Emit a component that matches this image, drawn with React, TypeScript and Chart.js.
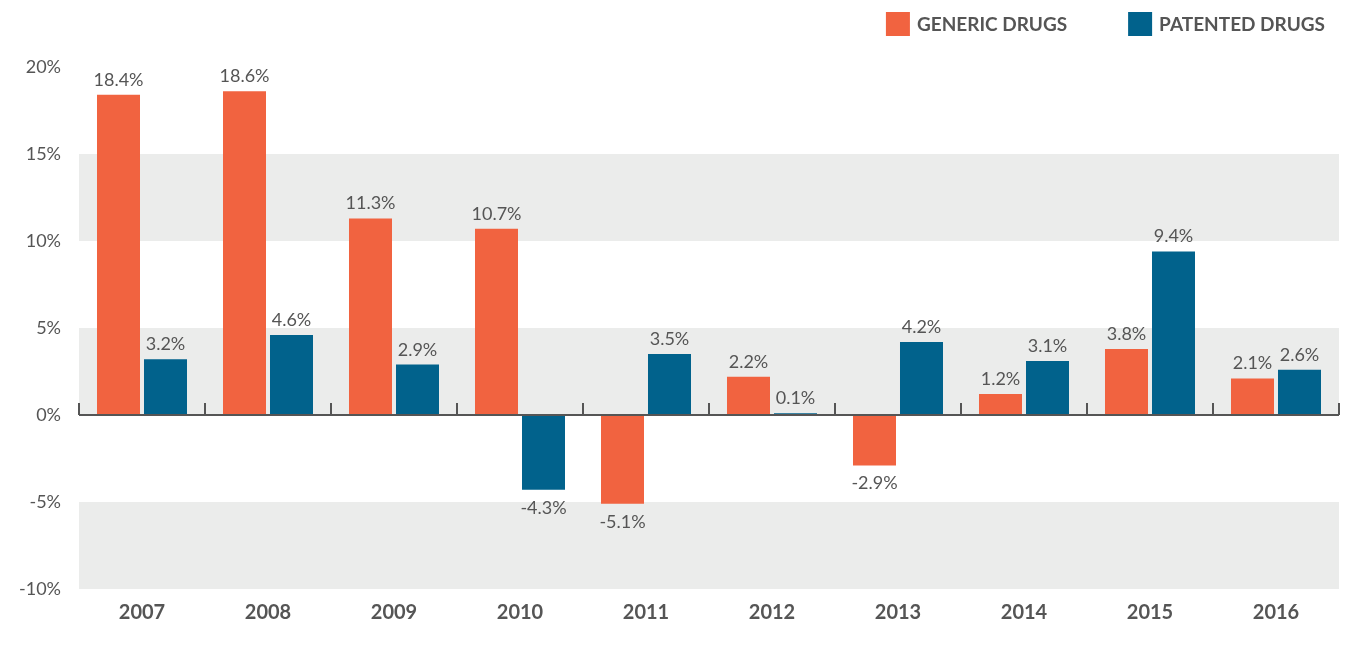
import React, { useEffect, useRef } from 'react';
import { Chart, registerables } from 'chart.js';

Chart.register(...registerables);

const categories = ['2007', '2008', '2009', '2010', '2011', '2012', '2013', '2014', '2015', '2016'];
const genericDrugs = [18.4, 18.6, 11.3, 10.7, -5.1, 2.2, -2.9, 1.2, 3.8, 2.1];
const patentedDrugs = [3.2, 4.6, 2.9, -4.3, 3.5, 0.1, 4.2, 3.1, 9.4, 2.6];
const seriesLabels = ['GENERIC DRUGS', 'PATENTED DRUGS'];
const seriesColors = ['#F16340', '#01628C'];
const shadedBands = [
  [10, 15],
  [0, 5],
  [-10, -5],
];
const yMin = -10;
const yMax = 20;
const yStep = 5;

const TEXT = '#555555';
const FONT = 'Lato, "Open Sans", sans-serif';

const bandsPlugin = {
  id: 'bands',
  beforeDatasetsDraw(chart: any) {
    const { ctx, chartArea } = chart;
    const y = chart.scales.y;
    ctx.save();
    ctx.fillStyle = '#EBECEB';
    for (const [lo, hi] of shadedBands) {
      const top = y.getPixelForValue(hi);
      const bottom = y.getPixelForValue(lo);
      ctx.fillRect(chartArea.left, top, chartArea.right - chartArea.left, bottom - top);
    }
    ctx.restore();
  },
};

const zeroAxisPlugin = {
  id: 'zeroAxis',
  afterDatasetsDraw(chart: any) {
    const { ctx, chartArea } = chart;
    const y0 = chart.scales.y.getPixelForValue(0);
    const n = chart.data.labels.length;
    const w = (chartArea.right - chartArea.left) / n;
    ctx.save();
    ctx.strokeStyle = '#555555';
    ctx.lineWidth = 2;
    ctx.beginPath();
    ctx.moveTo(chartArea.left, y0);
    ctx.lineTo(chartArea.right, y0);
    for (let i = 0; i <= n; i++) {
      const x = Math.round(chartArea.left + i * w);
      ctx.moveTo(x, y0);
      ctx.lineTo(x, y0 - 12);
    }
    ctx.stroke();
    ctx.restore();
  },
};

const valueLabelsPlugin = {
  id: 'valueLabels',
  afterDatasetsDraw(chart: any) {
    const { ctx } = chart;
    ctx.save();
    ctx.font = `18px ${FONT}`;
    ctx.fillStyle = TEXT;
    ctx.textAlign = 'center';
    ctx.textBaseline = 'alphabetic';
    chart.data.datasets.forEach((ds: any, di: number) => {
      const meta = chart.getDatasetMeta(di);
      meta.data.forEach((el: any, i: number) => {
        const v = ds.data[i];
        const txt = v.toFixed(1) + '%';
        const yy = v >= 0 ? el.y - 9 : el.y + 24;
        ctx.fillText(txt, el.x, yy);
      });
    });
    ctx.restore();
  },
};

const legendPlugin = {
  id: 'customLegend',
  afterDraw(chart: any) {
    const { ctx } = chart;
    ctx.save();
    ctx.font = `bold 19px ${FONT}`;
    ctx.textBaseline = 'middle';
    ctx.textAlign = 'left';
    let x = chart.width - 25;
    const datasets = chart.data.datasets;
    for (let i = datasets.length - 1; i >= 0; i--) {
      const label = datasets[i].label;
      const tw = ctx.measureText(label).width;
      x -= tw;
      ctx.fillStyle = TEXT;
      ctx.fillText(label, x, 25);
      x -= 7 + 24;
      ctx.fillStyle = datasets[i].backgroundColor;
      ctx.fillRect(x, 12, 24, 24);
      x -= 61;
    }
    ctx.restore();
  },
};

export default function App() {
  const ref = useRef<HTMLCanvasElement | null>(null);

  useEffect(() => {
    document.body.style.margin = '0';
    if (!ref.current) return;
    const chart = new Chart(ref.current, {
      type: 'bar',
      data: {
        labels: categories,
        datasets: [
          {
            label: seriesLabels[0],
            data: genericDrugs,
            backgroundColor: seriesColors[0],
            categoryPercentage: 0.746,
            barPercentage: 0.915,
          },
          {
            label: seriesLabels[1],
            data: patentedDrugs,
            backgroundColor: seriesColors[1],
            categoryPercentage: 0.746,
            barPercentage: 0.915,
          },
        ],
      },
      options: {
        responsive: false,
        animation: false,
        layout: { padding: { top: 67, right: 11, left: 0, bottom: 0 } },
        plugins: {
          legend: { display: false },
          tooltip: { enabled: false },
        },
        scales: {
          x: {
            grid: { display: false, drawTicks: false },
            border: { display: false },
            ticks: {
              color: TEXT,
              font: { family: FONT, size: 20, weight: 'bold' },
              padding: 12,
            },
            afterFit(scale: any) {
              scale.height = 58;
            },
          },
          y: {
            min: yMin,
            max: yMax,
            grid: { display: false, drawTicks: false },
            border: { display: false },
            ticks: {
              stepSize: yStep,
              color: TEXT,
              font: { family: FONT, size: 18 },
              padding: 18,
              callback: (v: any) => `${v}%`,
            },
            afterFit(scale: any) {
              scale.width = 79;
            },
          },
        },
      },
      plugins: [bandsPlugin, zeroAxisPlugin, valueLabelsPlugin, legendPlugin],
    });
    return () => chart.destroy();
  }, []);

  return (
    <div style={{ position: 'absolute', left: 0, top: 0, width: 1350, height: 647 }}>
      <canvas ref={ref} width={1350} height={647} />
    </div>
  );
}
